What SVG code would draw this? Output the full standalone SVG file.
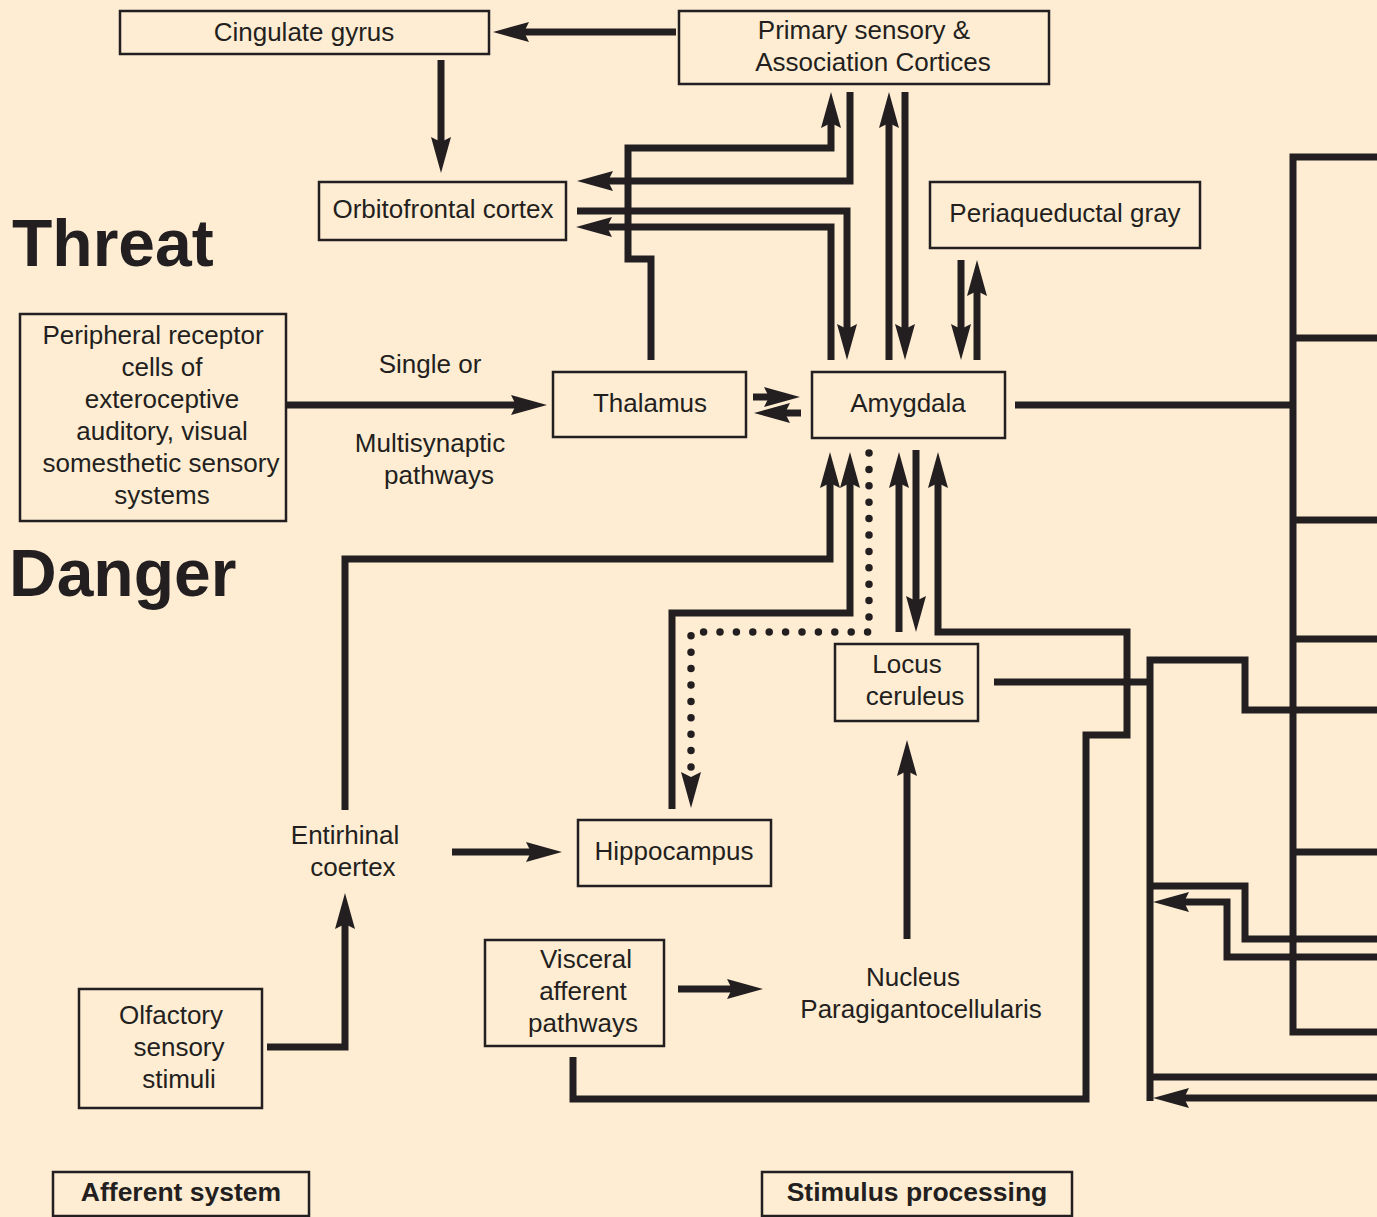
<svg xmlns="http://www.w3.org/2000/svg" width="1377" height="1217" viewBox="0 0 1377 1217">
<style>
.bg{fill:#FEEDD3}
.box{fill:none;stroke:#231F20;stroke-width:2.5}
.t{font-family:"Liberation Sans",Arial,sans-serif;font-size:26px;fill:#231F20;text-anchor:middle}
.b{font-family:"Liberation Sans",Arial,sans-serif;font-size:26.5px;font-weight:bold;fill:#231F20;text-anchor:middle}
.big{font-family:"Liberation Sans",Arial,sans-serif;font-size:66px;font-weight:bold;fill:#231F20}
.c{fill:none;stroke:#231F20;stroke-width:7;stroke-linejoin:miter;stroke-linecap:butt}
.a{marker-end:url(#ah)}
.dot{fill:none;stroke:#231F20;stroke-width:7.5;stroke-linecap:round;stroke-dasharray:0 16.4;marker-end:url(#ah)}
</style>
<defs>
<marker id="ah" viewBox="0 0 36 20" markerWidth="36" markerHeight="20" refX="8" refY="10" orient="auto" markerUnits="userSpaceOnUse">
<path d="M0,0 L36,10 L0,20 L5,10 Z" fill="#231F20"/>
</marker>
</defs>
<rect class="bg" x="0" y="0" width="1377" height="1217"/>

<text class="big" x="12" y="266">Threat</text>
<text class="big" x="9" y="596">Danger</text>

<g id="connectors">
<path class="c a" d="M676,32 H521"/>
<path class="c a" d="M441,60 V145"/>
<path class="c a" d="M651,360 V259 H628 V148 H831 V120"/>
<path class="c a" d="M850,92 V181 H605"/>
<path class="c a" d="M577,211 H847 V332"/>
<path class="c a" d="M831,360 V227 H604"/>
<path class="c a" d="M889,360 V120"/>
<path class="c a" d="M905,92 V332"/>
<path class="c a" d="M977,360 V288"/>
<path class="c a" d="M961,260 V332"/>
<path class="c a" d="M753,397 H772"/>
<path class="c a" d="M801,413 H782"/>
<path class="c a" d="M286,405 H519"/>
<path class="c" d="M1015,405 H1293"/>
<path class="c" d="M1377,157 H1293 V1032 H1377"/>
<path class="c" d="M1293,338 H1377"/>
<path class="c" d="M1293,520 H1377"/>
<path class="c" d="M1293,639 H1377"/>
<path class="c" d="M1293,852 H1377"/>
<path class="c a" d="M345,810 V559 H830 V480"/>
<path class="c a" d="M672,809 V613 H850 V480"/>
<path class="dot" d="M869,453 V632 H691 V780"/>
<path class="c a" d="M916,450 V604"/>
<path class="c a" d="M899,632 V480"/>
<path class="c a" d="M573,1057 V1099 H1086 V735 H1127 V632 H938 V480"/>
<path class="c" d="M994,682 H1150"/>
<path class="c" d="M1150,1101 V660 H1245 V710 H1377"/>
<path class="c" d="M1150,886 H1245 V939 H1377"/>
<path class="c a" d="M1377,957 H1227 V902 H1181"/>
<path class="c" d="M1150,1077 H1377"/>
<path class="c a" d="M1377,1098 H1181"/>
<path class="c a" d="M452,852 H534"/>
<path class="c a" d="M267,1047 H345 V921"/>
<path class="c a" d="M678,989 H735"/>
<path class="c a" d="M907,939 V768"/>
</g>

<g id="cingulate"><rect class="box" x="120" y="11" width="369" height="43"/><text class="t" x="304" y="41">Cingulate gyrus</text></g>
<g id="primary"><rect class="box" x="679" y="11" width="370" height="73"/><text class="t" x="864" y="39">Primary sensory &amp;</text><text class="t" x="873" y="71">Association Cortices</text></g>
<g id="orbitofrontal"><rect class="box" x="319" y="182" width="247" height="58"/><text class="t" x="443" y="218">Orbitofrontal cortex</text></g>
<g id="pag"><rect class="box" x="930" y="182" width="270" height="66"/><text class="t" x="1065" y="222">Periaqueductal gray</text></g>
<g id="peripheral"><rect class="box" x="20" y="314" width="266" height="207"/>
<text class="t" x="153" y="344">Peripheral receptor</text>
<text class="t" x="162" y="376">cells of</text>
<text class="t" x="162" y="408">exteroceptive</text>
<text class="t" x="162" y="440">auditory, visual</text>
<text class="t" x="161" y="472">somesthetic sensory</text>
<text class="t" x="162" y="504">systems</text></g>
<g id="pathway-label"><text class="t" x="430" y="373">Single or</text><text class="t" x="430" y="452">Multisynaptic</text><text class="t" x="439" y="484">pathways</text></g>
<g id="thalamus"><rect class="box" x="553" y="372" width="193" height="65"/><text class="t" x="650" y="412">Thalamus</text></g>
<g id="amygdala"><rect class="box" x="812" y="372" width="193" height="66"/><text class="t" x="908" y="412">Amygdala</text></g>
<g id="locus"><rect class="box" x="835" y="644" width="143" height="77"/><text class="t" x="907" y="673">Locus</text><text class="t" x="915" y="705">ceruleus</text></g>
<g id="entorhinal"><text class="t" x="345" y="844">Entirhinal</text><text class="t" x="353" y="876">coertex</text></g>
<g id="hippocampus"><rect class="box" x="578" y="820" width="193" height="66"/><text class="t" x="674" y="860">Hippocampus</text></g>
<g id="visceral"><rect class="box" x="485" y="940" width="179" height="106"/><text class="t" x="586" y="968">Visceral</text><text class="t" x="583" y="1000">afferent</text><text class="t" x="583" y="1032">pathways</text></g>
<g id="nucleus"><text class="t" x="913" y="986">Nucleus</text><text class="t" x="921" y="1018">Paragigantocellularis</text></g>
<g id="olfactory"><rect class="box" x="79" y="989" width="183" height="119"/><text class="t" x="171" y="1024">Olfactory</text><text class="t" x="179" y="1056">sensory</text><text class="t" x="179" y="1088">stimuli</text></g>
<g id="afferent"><rect class="box" x="53" y="1172" width="256" height="44"/><text class="b" x="181" y="1201">Afferent system</text></g>
<g id="stimulus"><rect class="box" x="762" y="1172" width="310" height="44"/><text class="b" x="917" y="1201">Stimulus processing</text></g>
</svg>
